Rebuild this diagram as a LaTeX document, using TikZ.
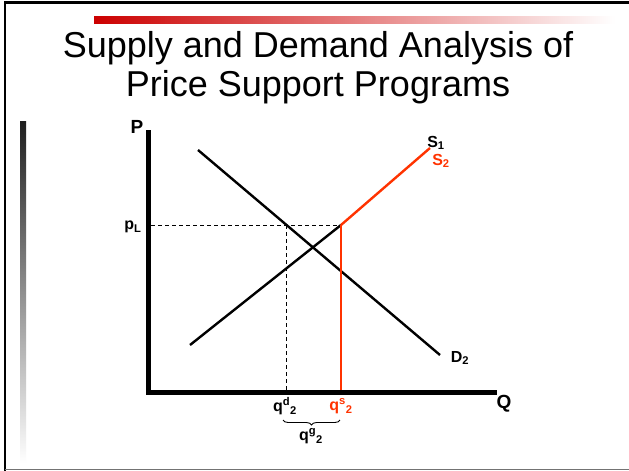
\documentclass[tikz,border=0pt]{standalone}
\usepackage{fontspec}
\setmainfont{Liberation Sans}
\usetikzlibrary{decorations.pathreplacing}
\definecolor{accent}{HTML}{FF3300}
\definecolor{barred}{HTML}{CC0000}
\tikzset{
  axis/.style={line width=5pt, line join=miter, line cap=rect},
  curve/.style={line width=2.4pt},
  guide/.style={line width=1pt, dash pattern=on 4pt off 3pt},
  biglab/.style={font=\fontsize{19}{21}\selectfont\bfseries, inner sep=0pt},
  lab/.style={font=\fontsize{16}{18}\selectfont\bfseries, inner sep=0pt},
  titletext/.style={font=\fontsize{36}{40}\selectfont, inner sep=0pt, anchor=base},
}
\begin{document}
\begin{tikzpicture}[x=1pt,y=-1pt]
\useasboundingbox (0,0) rectangle (629,471);
% slide frame
\fill[white] (0,0) rectangle (629,471);
\draw[line width=2.2pt] (5,471) -- (5,2.5) -- (629,2.5);
\draw[line width=1.6pt, black!55] (5,469.5) -- (629,469.5);
% decorative bars
\shade[left color=barred, right color=white] (94,16) rectangle (615,23);
\shade[top color=black!88, bottom color=white] (20,121) rectangle (26,463);
% title
\node[titletext] (t1) at (318,57) {Supply and Demand Analysis of};
\node[titletext] (t2) at (318,96) {Price Support Programs};
% coordinates
\coordinate (ytop) at (148.5,132);
\coordinate (orig) at (148.5,392);
\coordinate (xend) at (494,392);
\coordinate (dA) at (198,150);
\coordinate (dB) at (440,355);
\coordinate (sA) at (190,345);
\coordinate (kink) at (341,225);
\coordinate (sB) at (430,148);
\coordinate (pl) at (151,225);
\coordinate (qd) at (286,225);
\coordinate (qdb) at (286,392);
\coordinate (qsb) at (341,392);
% guides
\draw[guide] (pl) -- (kink);
\draw[guide] (qd) -- (qdb);
% curves
\draw[curve] (dA) -- (dB);
\draw[curve] (sA) -- (kink);
\draw[curve, accent] (kink) -- (sB);
\draw[curve, accent] (kink) -- (qsb);
% axes
\draw[axis] (ytop) -- (orig) -- (xend);
% labels
\node[biglab] (P) at (137,127) {P};
\node[biglab] (Q) at (504,404) {Q};
\node[lab] (pL) at (133,227) {p\textsubscript{L}};
\node[lab] (S1) at (436,143) {S\textsubscript{1}};
\node[lab, accent] (S2) at (441,161) {S\textsubscript{2}};
\node[lab] (D2) at (460,358) {D\textsubscript{2}};
\node[lab] (qdl) at (285,406) {q\textsuperscript{d}\textsubscript{2}};
\node[lab, accent] (qsl) at (341,406) {q\textsuperscript{s}\textsubscript{2}};
\coordinate (brL) at (283,420);
\coordinate (brR) at (340,420);
\draw[line width=0.9pt, decorate, decoration={brace, amplitude=5pt}] (brR) -- (brL);
\node[lab] (qgl) at (311,436) {q\textsuperscript{g}\textsubscript{2}};
\end{tikzpicture}
\end{document}
